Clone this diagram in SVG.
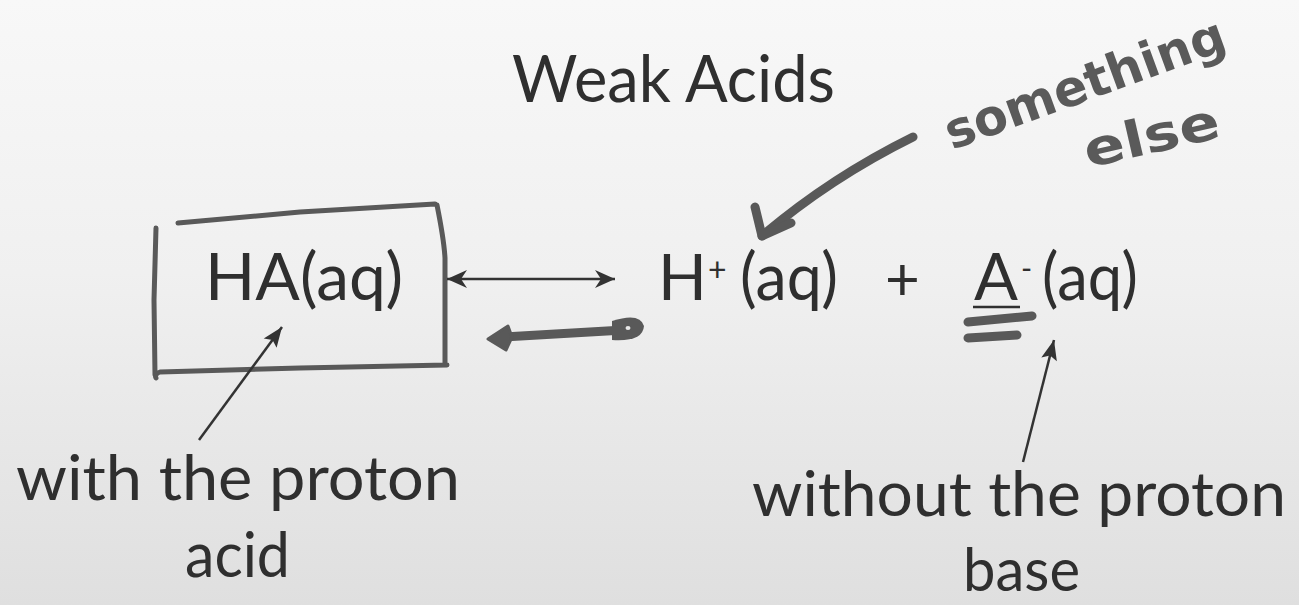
<svg xmlns="http://www.w3.org/2000/svg" width="1299" height="605" viewBox="0 0 1299 605">
  <defs>
    <linearGradient id="bg" x1="0" y1="0" x2="0" y2="1">
      <stop offset="0" stop-color="#f8f8f8"/>
      <stop offset="0.45" stop-color="#f0f0f0"/>
      <stop offset="1" stop-color="#dfdfdf"/>
    </linearGradient>
    <marker id="barb" markerUnits="userSpaceOnUse" markerWidth="24" markerHeight="24" viewBox="0 0 24 24" refX="22" refY="12" orient="auto-start-reverse">
      <path d="M2,3 L22,12 L2,21 L8,12 z" fill="#333"/>
    </marker>
    <marker id="tri" markerUnits="userSpaceOnUse" markerWidth="24" markerHeight="24" viewBox="0 0 24 24" refX="22" refY="12" orient="auto">
      <path d="M2,4 L22,12 L2,20 L6,12 z" fill="#333"/>
    </marker>
    <style>
      .t { font-family: Lato, "Open Sans", "Liberation Sans", sans-serif; fill: #2f2f2f; }
      .hand { font-family: "DejaVu Sans", "Liberation Sans", sans-serif; font-weight: bold; fill: #5a5a5a; }
      .ink { fill: none; stroke: #595959; stroke-linecap: round; stroke-linejoin: round; }
      .thin { fill: none; stroke: #333; stroke-width: 2.5; }
    </style>
  </defs>

  <rect x="0" y="0" width="1299" height="605" fill="url(#bg)"/>

  <g id="title">
    <text class="t" x="512" y="102" font-size="65" textLength="323" lengthAdjust="spacingAndGlyphs">Weak Acids</text>
  </g>

  <g id="node-HA">
    <path class="ink" stroke-width="5" d="M178,223 L300,212 L435,204 M437,205 Q444,240 445,258 L445,364 M447,365 L300,368 L160,372 Q154,374 156,378 M155,375 L154,300 L156,228"/>
    <text class="t" x="205" y="300" font-size="66" textLength="198" lengthAdjust="spacingAndGlyphs">HA(aq)</text>
  </g>

  <g id="node-Hplus">
    <text class="t" y="300" font-size="66"><tspan x="658" font-size="64">H</tspan><tspan x="708" y="281" font-size="32">+</tspan><tspan x="740" y="300" textLength="98" lengthAdjust="spacingAndGlyphs">(aq)</tspan></text>
  </g>

  <g id="plus">
    <text class="t" x="885" y="300" font-size="60">+</text>
  </g>

  <g id="node-Aminus">
    <text class="t" y="300" font-size="66"><tspan x="974" textLength="44" lengthAdjust="spacingAndGlyphs">A</tspan><tspan x="1021" y="279" font-size="30">-</tspan><tspan x="1042" y="300" textLength="96" lengthAdjust="spacingAndGlyphs">(aq)</tspan></text>
    <line x1="973" y1="307" x2="1020" y2="307" stroke="#2f2f2f" stroke-width="2.5"/>
    <path class="ink" stroke-width="9" d="M968,322 L1032,316 M968,338 L1017,335"/>
  </g>

  <g id="label-acid">
    <text class="t" x="16" y="500" font-size="62" textLength="444" lengthAdjust="spacingAndGlyphs">with the proton</text>
    <text class="t" x="185" y="577" font-size="62" textLength="105" lengthAdjust="spacingAndGlyphs">acid</text>
  </g>

  <g id="label-base">
    <text class="t" x="752" y="516" font-size="62" textLength="534" lengthAdjust="spacingAndGlyphs">without the proton</text>
    <text class="t" x="963" y="591" font-size="60" textLength="117" lengthAdjust="spacingAndGlyphs">base</text>
  </g>

  <g id="note-something-else">
    <text class="hand" font-size="50" transform="translate(952,150) rotate(-20)" textLength="295" lengthAdjust="spacingAndGlyphs">something</text>
    <text class="hand" font-size="50" transform="translate(1088,168) rotate(-13)" textLength="138" lengthAdjust="spacingAndGlyphs">else</text>
  </g>

  <g id="connectors">
    <line class="thin" x1="447" y1="279" x2="615" y2="279" marker-start="url(#barb)" marker-end="url(#barb)"/>
    <path class="ink" stroke-width="9" d="M503,337 L624,330"/>
    <path d="M488,339 L508,326 L512,337 L506,350 z" fill="#595959" stroke="#595959" stroke-width="3" stroke-linejoin="round"/>
    <path d="M612,321 Q640,312 644,326 Q643,342 612,340 z" fill="#595959"/>
    <ellipse cx="628" cy="328" rx="2.5" ry="2" fill="#e8e8e8"/>
    <line class="thin" x1="199" y1="440" x2="282" y2="327" marker-end="url(#tri)"/>
    <line class="thin" x1="1023" y1="462" x2="1054" y2="340" marker-end="url(#tri)"/>
    <path class="ink" stroke-width="9" d="M913,137 Q830,178 762,236"/>
    <path class="ink" stroke-width="9" d="M755,207 L762,236 L791,223"/>
  </g>
</svg>
